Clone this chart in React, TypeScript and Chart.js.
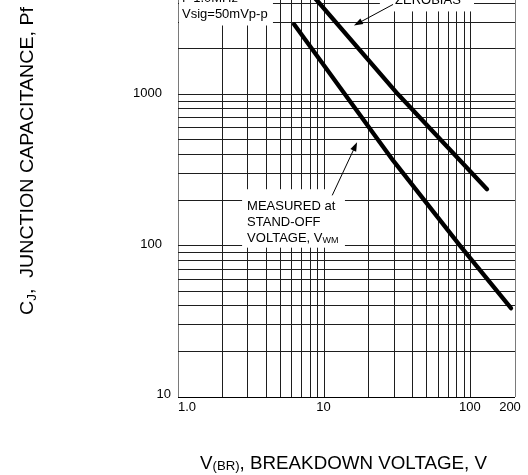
import React, { useEffect, useRef } from 'react';
import { Chart, registerables } from 'chart.js';

Chart.register(...registerables);

// ---- Data ----
const X_TICK_VALUES = [1, 10, 100, 200];
const X_TICK_LABELS = ['1.0', '10', '100', '200'];
const Y_TICK_VALUES = [10, 100, 1000];
const Y_TICK_LABELS = ['10', '100', '1000'];

const X_GRID = [1, 2, 3, 4, 5, 6, 7, 8, 9, 10, 20, 30, 40, 50, 60, 70, 80, 90, 100, 200];
const Y_GRID = [
  10, 20, 30, 40, 50, 60, 70, 80, 90,
  100, 200, 300, 400, 500, 600, 700, 800, 900,
  1000, 2000, 3000, 4000, 5000, 6000, 7000, 8000, 9000, 10000,
];

// Measured at zero bias
const ZERO_BIAS_V = [4.4, 8.9, 31.8, 128.8];
const ZERO_BIAS_C = [8900, 4170, 1000, 236];
// Measured at stand-off voltage VWM
const VWM_V = [6.2, 29.4, 84.2, 187.8];
const VWM_C = [2900, 366, 100, 38.6];

// Annotation anchors in data coordinates
const INFO_LINES = ['f=1.0MHz', 'Vsig=50mVp-p'];
const INFO_BOX_X_END = 4.45;
const INFO_BOX_Y_BOTTOM = 2850;
const ZERO_LABEL = 'ZEROBIAS';
const ZERO_BOX_X = [23.9, 105];
const ZERO_BOX_Y_BOTTOM = 3530;
const ZERO_ARROW = { from: [29.4, 3927], to: [15.9, 2851] };
const VWM_LINES = ['MEASURED at', 'STAND-OFF', 'VOLTAGE, V'];
const VWM_SUB = 'WM';
const VWM_BOX_X = [2.74, 13.8];
const VWM_BOX_Y = [236, 97];
const VWM_ARROW = { from: [11.3, 215], to: [16.7, 482] };

const FONT = '"Liberation Sans", Arial, Helvetica, sans-serif';
const f = (s: number) => `${s}px ${FONT}`;

function arrow(ctx: CanvasRenderingContext2D, x1: number, y1: number, x2: number, y2: number) {
  ctx.save();
  ctx.strokeStyle = '#000';
  ctx.fillStyle = '#000';
  ctx.lineWidth = 1;
  const a = Math.atan2(y2 - y1, x2 - x1);
  const L = 9, W = 3.2;
  ctx.beginPath();
  ctx.moveTo(x1, y1);
  ctx.lineTo(x2 - L * 0.7 * Math.cos(a), y2 - L * 0.7 * Math.sin(a));
  ctx.stroke();
  ctx.beginPath();
  ctx.moveTo(x2, y2);
  ctx.lineTo(x2 - L * Math.cos(a) + W * Math.sin(a), y2 - L * Math.sin(a) - W * Math.cos(a));
  ctx.lineTo(x2 - L * Math.cos(a) - W * Math.sin(a), y2 - L * Math.sin(a) + W * Math.cos(a));
  ctx.closePath();
  ctx.fill();
  ctx.restore();
}

type Seg = { t: string; size: number; dy?: number };

function drawSegs(ctx: CanvasRenderingContext2D, segs: Seg[], cx: number, baseY: number, target: number) {
  let natural = 0;
  const widths = segs.map((s) => {
    ctx.font = f(s.size);
    const w = ctx.measureText(s.t).width;
    natural += w;
    return w;
  });
  const sx = target / natural;
  ctx.save();
  ctx.translate(cx - target / 2, baseY);
  ctx.scale(sx, 1);
  ctx.textAlign = 'left';
  ctx.textBaseline = 'alphabetic';
  ctx.fillStyle = '#000';
  let x = 0;
  segs.forEach((s, i) => {
    ctx.font = f(s.size);
    ctx.fillText(s.t, x, s.dy || 0);
    x += widths[i];
  });
  ctx.restore();
}

const annotPlugin = {
  id: 'annot',
  afterDraw(chart: any) {
    const ctx: CanvasRenderingContext2D = chart.ctx;
    const xs = chart.scales.x;
    const ys = chart.scales.y;
    const X = (v: number) => xs.getPixelForValue(v);
    const Y = (v: number) => ys.getPixelForValue(v);
    const { left, right, top, bottom } = chart.chartArea;

    ctx.save();
    ctx.fillStyle = '#000';

    // Info box (top-left)
    const ibR = X(INFO_BOX_X_END);
    const ibB = Y(INFO_BOX_Y_BOTTOM);
    ctx.fillStyle = '#fff';
    ctx.fillRect(left + 1, top + 1, ibR - left - 1, ibB - top - 1);
    ctx.fillStyle = '#000';
    ctx.font = f(13);
    ctx.textAlign = 'left';
    ctx.textBaseline = 'middle';
    INFO_LINES.forEach((t, i) => {
      ctx.fillText(t, left + 4, ibB - 11 - (INFO_LINES.length - 1 - i) * 16);
    });

    // Zero bias label
    const zbL = X(ZERO_BOX_X[0]);
    const zbR = X(ZERO_BOX_X[1]);
    const zbB = Y(ZERO_BOX_Y_BOTTOM);
    ctx.fillStyle = '#fff';
    ctx.fillRect(zbL, top + 1, zbR - zbL, zbB - top - 1);
    ctx.fillStyle = '#000';
    ctx.textAlign = 'center';
    ctx.fillText(ZERO_LABEL, (zbL + zbR) / 2 + 1, zbB - 11);
    arrow(ctx, X(ZERO_ARROW.from[0]), Y(ZERO_ARROW.from[1]), X(ZERO_ARROW.to[0]), Y(ZERO_ARROW.to[1]));

    // VWM label
    const vbL = X(VWM_BOX_X[0]);
    const vbR = X(VWM_BOX_X[1]);
    const vbT = Y(VWM_BOX_Y[0]);
    const vbB = Y(VWM_BOX_Y[1]);
    ctx.fillStyle = '#fff';
    ctx.fillRect(vbL, vbT, vbR - vbL, vbB - vbT);
    ctx.fillStyle = '#000';
    ctx.textAlign = 'left';
    ctx.textBaseline = 'middle';
    ctx.font = f(13);
    VWM_LINES.forEach((t, i) => {
      ctx.fillText(t, vbL + 5, vbT + 17 + i * 16);
    });
    const lastW = ctx.measureText(VWM_LINES[VWM_LINES.length - 1]).width;
    ctx.font = f(9);
    ctx.fillText(VWM_SUB, vbL + 5 + lastW, vbT + 17 + (VWM_LINES.length - 1) * 16 + 2);
    arrow(ctx, X(VWM_ARROW.from[0]), Y(VWM_ARROW.from[1]), X(VWM_ARROW.to[0]), Y(VWM_ARROW.to[1]));

    // Tick labels
    ctx.font = f(13);
    ctx.textBaseline = 'middle';
    Y_TICK_VALUES.forEach((v, i) => {
      const isMin = i === 0;
      ctx.textAlign = 'right';
      ctx.fillText(Y_TICK_LABELS[i], isMin ? left - 7 : left - 16, Y(v) - (isMin ? 3 : 1));
    });
    X_TICK_VALUES.forEach((v, i) => {
      const px = X(v);
      const last = i === X_TICK_VALUES.length - 1;
      if (i === 0) {
        ctx.textAlign = 'left';
        ctx.fillText(X_TICK_LABELS[i], px, bottom + 10);
      } else {
        ctx.textAlign = 'center';
        ctx.fillText(X_TICK_LABELS[i], last ? px - 5 : px - 1, bottom + 10);
      }
    });

    // X axis title
    drawSegs(
      ctx,
      [
        { t: 'V', size: 18.5 },
        { t: '(BR)', size: 13, dy: 1 },
        { t: ', BREAKDOWN VOLTAGE, V', size: 18.5 },
      ],
      (left + right) / 2 - 3,
      bottom + 72,
      287
    );

    // Y axis title (rotated)
    ctx.save();
    ctx.translate(33, 161 + (chart.height - 475));
    ctx.rotate(-Math.PI / 2);
    drawSegs(
      ctx,
      [
        { t: 'C', size: 19 },
        { t: 'J', size: 13, dy: 3 },
        { t: ',  JUNCTION CAPACITANCE, Pf', size: 19 },
      ],
      0,
      0,
      308
    );
    ctx.restore();

    ctx.restore();
  },
};

const lineStyle = {
  borderColor: '#000',
  backgroundColor: '#000',
  borderWidth: 4.3,
  pointRadius: 0,
  tension: 0,
  borderCapStyle: 'round' as const,
  borderJoinStyle: 'round' as const,
  fill: false,
};

export default function App() {
  const ref = useRef<HTMLCanvasElement>(null);
  useEffect(() => {
    const canvas = ref.current!;
    const chart = new Chart(canvas, {
      type: 'line',
      data: {
        datasets: [
          {
            label: 'Measured at zero bias',
            data: ZERO_BIAS_V.map((x, i) => ({ x, y: ZERO_BIAS_C[i] })),
            ...lineStyle,
          },
          {
            label: 'Measured at stand-off voltage VWM',
            data: VWM_V.map((x, i) => ({ x, y: VWM_C[i] })),
            ...lineStyle,
          },
        ],
      },
      options: {
        responsive: false,
        animation: false,
        devicePixelRatio: 1,
        events: [],
        layout: { padding: { left: 178, right: 13, top: 0, bottom: 78 } },
        plugins: { legend: { display: false }, tooltip: { enabled: false } },
        scales: {
          x: {
            type: 'logarithmic',
            min: 1,
            max: 200,
            afterBuildTicks: (s: any) => {
              s.ticks = X_GRID.map((value) => ({ value }));
            },
            afterFit: (s: any) => {
              s.height = 0;
            },
            ticks: { display: false },
            grid: {
              drawTicks: false,
              lineWidth: 1,
              color: (c: any) => (c.tick && (c.tick.value === 1 || c.tick.value === 200) ? '#7a7a7a' : '#1e1e1e'),
            },
            border: { display: false },
          },
          y: {
            type: 'logarithmic',
            min: 10,
            max: 10000,
            afterBuildTicks: (s: any) => {
              s.ticks = Y_GRID.map((value) => ({ value }));
            },
            afterFit: (s: any) => {
              s.width = 0;
            },
            ticks: { display: false },
            grid: {
              drawTicks: false,
              lineWidth: 1,
              color: (c: any) => (c.tick && c.tick.value === 10 ? '#000' : c.tick && c.tick.value === 10000 ? '#7a7a7a' : '#1e1e1e'),
            },
            border: { display: false },
          },
        },
      } as any,
      plugins: [annotPlugin],
    });
    return () => chart.destroy();
  }, []);
  return (
    <canvas
      ref={ref}
      width={528}
      height={532}
      style={{ position: 'fixed', left: 0, top: -57, display: 'block', width: 528, height: 532 }}
    />
  );
}
